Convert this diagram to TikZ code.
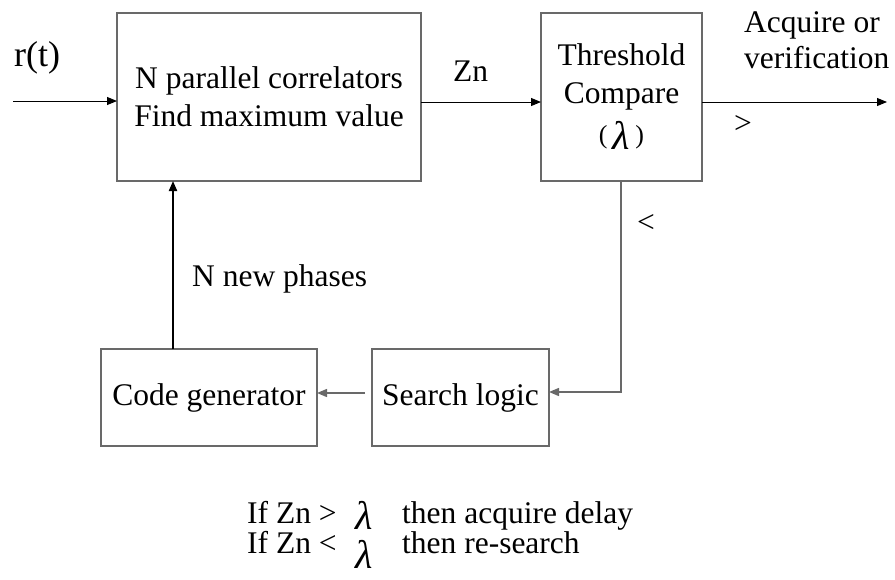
\documentclass[tikz,border=0pt]{standalone}
\usepackage{fontspec}
\setmainfont{Liberation Serif}
\usetikzlibrary{arrows.meta}
\definecolor{edgegray}{RGB}{105,105,105}
\newcommand{\lam}{{\fontsize{40}{38}\selectfont\itshape λ}}
\tikzset{
  every node/.style={font=\fontsize{31.5}{38}\selectfont},
  block/.style={draw=edgegray, line width=1.3pt, rectangle, inner sep=0pt, outer sep=0pt, align=center},
  sig/.style={-{Triangle[length=10pt,width=8pt]}, line width=1pt, black},
  fbk/.style={-{Triangle[length=10pt,width=8pt]}, line width=1.4pt, edgegray},
  lbl/.style={inner sep=0pt, anchor=base west}
}
\begin{document}
\begin{tikzpicture}[x=1pt,y=-1pt]
\useasboundingbox (0,0) rectangle (895,579);

% processing blocks
\node[block, minimum width=304pt, minimum height=168pt] (corr) at (269,97)
  {N parallel correlators\\Find maximum value};
\node[block, minimum width=161pt, minimum height=168pt] (thr) at (621.5,97)
  {Threshold\\Compare\\[2pt]{\fontsize{26}{30}\selectfont(}\,\raisebox{-6pt}{\lam}\,{\fontsize{26}{30}\selectfont)}};
\node[block, minimum width=216pt, minimum height=97pt] (code) at (209,397.5)
  {Code generator};
\node[block, minimum width=177pt, minimum height=97pt] (search) at (460.5,397.5)
  {Search logic};

% connection points
\coordinate (rin) at (13,101);
\coordinate (zn) at (421,102);
\coordinate (out) at (887,102);
\coordinate (fb) at (621,392);
\coordinate (sl) at (372,393);
\coordinate (ph) at (173,349);

% signal paths
\draw[sig] (rin) -- (rin -| corr.west);
\draw[sig] (zn) -- (zn -| thr.west);
\draw[sig] (thr.east |- out) -- (out);
\draw[fbk] (thr.south -| fb) -- (fb) -- (fb -| search.east);
\draw[fbk, shorten <=7pt] (sl) -- (sl -| code.east);
\draw[sig, line width=2pt] (ph) -- (ph |- corr.south);

% labels
\node[lbl, font=\fontsize{36}{40}\selectfont] (rt) at (14,66) {r(t)};
\node[lbl] (znl) at (453,81) {Zn};
\node[lbl] (acq) at (744,32) {Acquire or};
\node[lbl] (ver) at (744,68) {verification};
\node[lbl] (gt) at (734,133) {>};
\node[lbl] (lt) at (637,232) {<};
\node[lbl] (nph) at (192,286) {N new phases};

% decision rule (base anchor sits on the last line)
\node[lbl, align=left, font=\fontsize{31.5}{28}\selectfont] (rule) at (247,553)
  {\makebox[108pt][l]{If Zn >}\makebox[47pt][l]{\raisebox{-6pt}{\lam}}then acquire delay\\
   \makebox[108pt][l]{If Zn <}\makebox[47pt][l]{\raisebox{-15pt}{\lam}}then re-search};
\end{tikzpicture}
\end{document}
